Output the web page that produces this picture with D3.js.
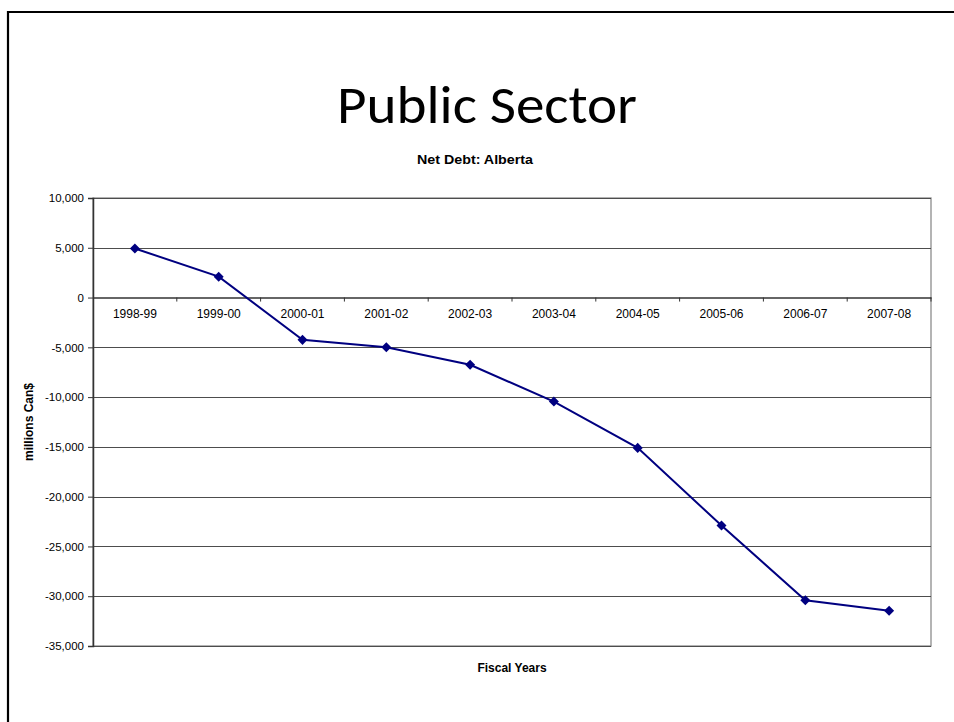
<!DOCTYPE html>
<html lang="en">

<head>
  <meta charset="UTF-8">
  <title>Public Sector</title>
  <script src="https://cdn.jsdelivr.net/npm/d3@7"></script>
  <style>
    body { margin: 0; background: #fff; }
    .tick text { font-family: "Liberation Sans", Arial, sans-serif; font-size: 11.5px; fill: #000; }
    .xaxis .tick text { font-size: 12px; }
  </style>
</head>

<body>
  <svg width="954" height="722"></svg>
</body>

<script>
  // data
  const years = ["1998-99", "1999-00", "2000-01", "2001-02", "2002-03",
    "2003-04", "2004-05", "2005-06", "2006-07", "2007-08"];
  const netDebt = [4930, 2100, -4250, -5000, -6750, -10450, -15100, -22900, -30400, -31450];
  const yTicks = [10000, 5000, 0, -5000, -10000, -15000, -20000, -25000, -30000, -35000];

  const svg = d3.select("svg");
  const margin = { left: 93, top: 198, right: 23, bottom: 76 };
  const innerWidth = 954 - margin.left - margin.right;
  const innerHeight = 722 - margin.top - margin.bottom;

  // slide frame
  svg.append("path")
    .attr("d", "M8,730 L8,12 L960,12")
    .attr("fill", "none")
    .attr("stroke", "#000")
    .attr("stroke-width", 2.2);

  svg.append("text")
    .attr("x", 487)
    .attr("y", 123)
    .attr("text-anchor", "middle")
    .attr("font-family", "Carlito, Calibri, Lato, sans-serif")
    .attr("font-size", 53)
    .attr("textLength", 300)
    .attr("lengthAdjust", "spacingAndGlyphs")
    .text("Public Sector");

  svg.append("text")
    .attr("x", 475)
    .attr("y", 164)
    .attr("text-anchor", "middle")
    .attr("font-family", "'Liberation Sans', Arial, sans-serif")
    .attr("font-weight", "bold")
    .attr("font-size", 13)
    .attr("textLength", 116)
    .attr("lengthAdjust", "spacingAndGlyphs")
    .text("Net Debt: Alberta");

  const g = svg.append("g")
    .attr("transform", "translate(" + margin.left + "," + margin.top + ")");

  const xScale = d3.scaleBand().domain(years).range([0, innerWidth]);
  const yScale = d3.scaleLinear().domain([-35000, 10000]).range([innerHeight, 0]);
  const fmt = d => d3.format(",")(d).replace("\u2212", "-");

  // plot area border (gray)
  g.append("rect")
    .attr("width", innerWidth)
    .attr("height", innerHeight)
    .attr("fill", "none")
    .attr("stroke", "#8c8c8c")
    .attr("stroke-width", 1.3);

  // gridlines
  g.append("g")
    .selectAll("line")
    .data(yTicks.filter(d => d !== 0))
    .join("line")
    .attr("x1", 0)
    .attr("x2", innerWidth)
    .attr("y1", d => Math.round(yScale(d)) + 0.5)
    .attr("y2", d => Math.round(yScale(d)) + 0.5)
    .attr("stroke", "#4d4d4d")
    .attr("stroke-width", 1.2);

  // y axis
  const yAxis = g.append("g")
    .call(d3.axisLeft(yScale).tickValues(yTicks).tickFormat(fmt).tickSize(5).tickPadding(4));
  yAxis.select(".domain").attr("stroke", "#333").attr("stroke-width", 1.5);
  yAxis.selectAll(".tick line").attr("stroke", "#333");

  // x axis at zero, labels below the line
  const xAxis = g.append("g")
    .attr("class", "xaxis")
    .attr("transform", "translate(0," + yScale(0) + ")")
    .call(d3.axisBottom(xScale).tickSize(0).tickPadding(12));
  xAxis.select(".domain").attr("stroke", "#333").attr("stroke-width", 1.5);
  xAxis.selectAll(".boundary")
    .data(years)
    .join("line")
    .attr("class", "boundary")
    .attr("x1", d => xScale(d) + xScale.bandwidth())
    .attr("x2", d => xScale(d) + xScale.bandwidth())
    .attr("y1", 0)
    .attr("y2", 4)
    .attr("stroke", "#333");

  // series line + diamond markers
  const line = d3.line()
    .x((d, i) => xScale(years[i]) + xScale.bandwidth() / 2)
    .y(d => yScale(d));

  g.append("path")
    .datum(netDebt)
    .attr("d", line)
    .attr("fill", "none")
    .attr("stroke", "#000080")
    .attr("stroke-width", 2);

  g.append("g")
    .selectAll("path")
    .data(netDebt)
    .join("path")
    .attr("d", d3.symbol(d3.symbolDiamond2, 64))
    .attr("transform", (d, i) => "translate(" + (xScale(years[i]) + xScale.bandwidth() / 2) + "," + yScale(d) + ")")
    .attr("fill", "#000080");

  // axis titles
  svg.append("text")
    .attr("transform", "translate(33," + (margin.top + innerHeight / 2) + ") rotate(-90)")
    .attr("text-anchor", "middle")
    .attr("font-family", "'Liberation Sans', Arial, sans-serif")
    .attr("font-weight", "bold")
    .attr("font-size", 12)
    .text("millions Can$");

  svg.append("text")
    .attr("x", margin.left + innerWidth / 2)
    .attr("y", 672)
    .attr("text-anchor", "middle")
    .attr("font-family", "'Liberation Sans', Arial, sans-serif")
    .attr("font-weight", "bold")
    .attr("font-size", 12)
    .text("Fiscal Years");
</script>

</html>
